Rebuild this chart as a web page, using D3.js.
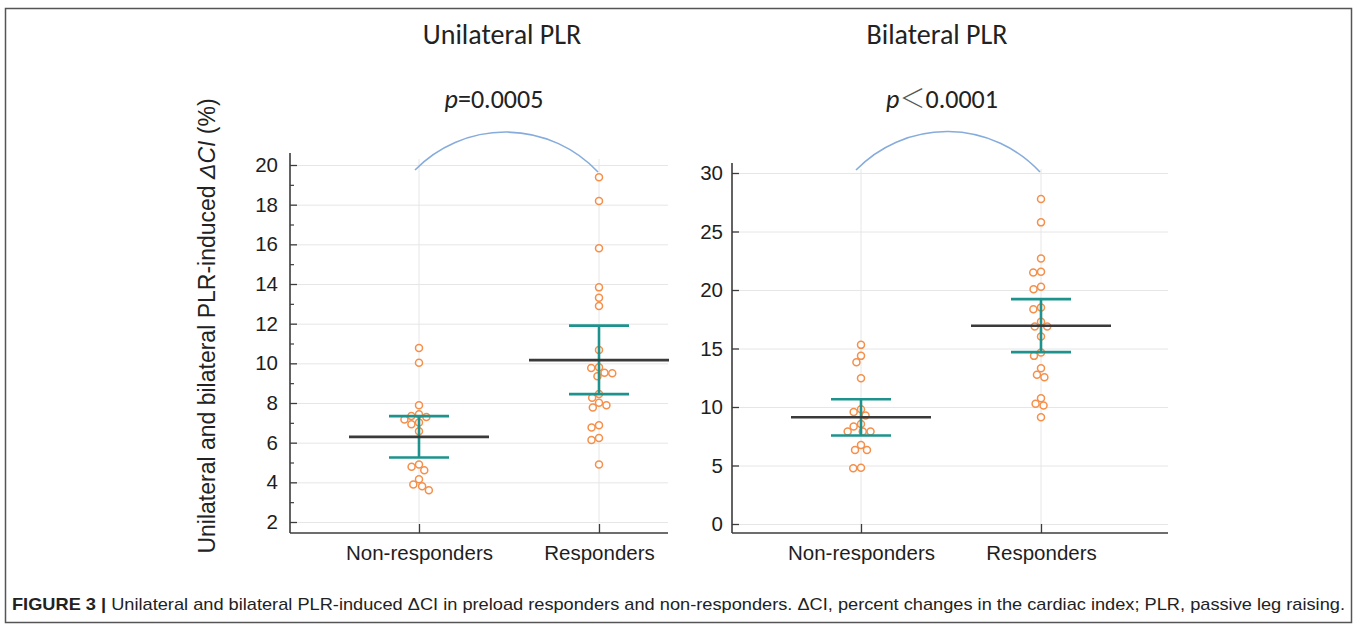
<!DOCTYPE html>
<html>
<head>
<meta charset="utf-8">
<script src="https://cdn.jsdelivr.net/npm/d3@7/dist/d3.min.js"></script>
<style>
  html, body { margin: 0; padding: 0; background: #fff; }
  svg { display: block; }
</style>
</head>
<body>
<svg id="chart" width="1357" height="629"></svg>
<script>
// ---------------- DATA ----------------
const categories = ["Non-responders", "Responders"];
const panelTitles = ["Unilateral PLR", "Bilateral PLR"];
const pRelations = ["=", "\uFF1C"];
const pValues = ["0.0005", "0.0001"];

const uniNonResponders = [10.77, 10.03, 7.89, 7.43, 7.35, 7.30, 7.17, 7.02, 6.93, 6.58, 4.90, 4.78, 4.61, 4.16, 3.89, 3.80, 3.60];
const uniResponders = [19.38, 18.18, 15.80, 13.83, 13.31, 12.89, 10.67, 9.80, 9.77, 9.52, 9.50, 9.35, 8.45, 8.26, 8.01, 7.89, 7.77, 6.88, 6.76, 6.24, 6.13, 4.90];
const biNonResponders = [15.31, 14.37, 13.83, 12.46, 9.81, 9.58, 9.27, 8.55, 8.33, 7.90, 7.90, 7.90, 6.76, 6.33, 6.33, 4.81, 4.76];
const biResponders = [27.77, 25.78, 22.70, 21.56, 21.50, 20.27, 20.07, 18.50, 18.36, 17.28, 16.88, 16.88, 16.02, 14.66, 14.37, 13.32, 12.75, 12.55, 10.75, 10.27, 10.12, 9.12];

const uniMeans = [6.29, 10.16];
const uniCILow = [5.25, 8.45];
const uniCIHigh = [7.34, 11.90];
const biMeans = [9.12, 16.94];
const biCILow = [7.56, 14.69];
const biCIHigh = [10.66, 19.22];

const uniTicks = [2, 4, 6, 8, 10, 12, 14, 16, 18, 20];
const uniMinorTicks = [3, 5, 7, 9, 11, 13, 15, 17, 19];
const biTicks = [0, 5, 10, 15, 20, 25, 30];
const biMinorTicks = [];

const captionBold = "FIGURE 3 |";
const captionText = " Unilateral and bilateral PLR-induced \u0394CI in preload responders and non-responders. \u0394CI, percent changes in the cardiac index; PLR, passive leg raising.";
const yAxisLabel = ["Unilateral and bilateral PLR-induced ", "\u0394CI", " (%)"];

// ---------------- STYLE / LAYOUT ----------------
const svg = d3.select("#chart");
const COL = {
  axis: "#3c3c3c", grid: "#e6e6e6", dot: "#f58f4a", ci: "#1e938e",
  mean: "#3a3a3a", arc: "#86acdc", border: "#555"
};
const NUM_FONT = "'Liberation Sans', Arial, sans-serif";
const TITLE_FONT = "Carlito, Lato, 'Open Sans', sans-serif";

// outer frame
svg.append("rect").attr("x", 5.5).attr("y", 8.5).attr("width", 1346).attr("height", 614)
  .attr("fill", "none").attr("stroke", COL.border).attr("stroke-width", 1.5);

const panels = [
  {
    values: [uniNonResponders, uniResponders], means: uniMeans, lo: uniCILow, hi: uniCIHigh,
    domain: [2, 20], yRange: [522, 165], ticks: uniTicks, minor: uniMinorTicks,
    axisX: 290, axisTop: 153, axisBottom: 533, right: 668, xRange: [419, 599],
    labelPad: 12, title: panelTitles[0], titleX: 502, rel: pRelations[0], pv: pValues[0], pX: 494,
    arc: { dx0: -4, y0: 170, dx1: -1, y1: 172, r: 127 }
  },
  {
    values: [biNonResponders, biResponders], means: biMeans, lo: biCILow, hi: biCIHigh,
    domain: [0, 30], yRange: [524, 173], ticks: biTicks, minor: biMinorTicks,
    axisX: 732, axisTop: 163, axisBottom: 533, right: 1168, xRange: [861, 1041],
    labelPad: 9, title: panelTitles[1], titleX: 937, rel: pRelations[1], pv: pValues[1], pX: 942,
    arc: { dx0: -5, y0: 170, dx1: -1, y1: 172, r: 127 }
  }
];

function swarm(values, y, D) {
  const placed = [];
  const sorted = values.slice().sort((a, b) => b - a);
  sorted.forEach(v => {
    const yy = y(v);
    const forb = [];
    placed.forEach(p => {
      const dy = Math.abs(p.y - yy);
      if (dy < D) {
        const w = Math.sqrt(D * D - dy * dy);
        forb.push([p.o - w, p.o + w]);
      }
    });
    const cands = [0];
    forb.forEach(f => { cands.push(f[0], f[1]); });
    cands.sort((a, b) => Math.abs(a) - Math.abs(b) || a - b);
    let o = 0;
    for (const c of cands) {
      if (forb.every(f => c <= f[0] + 1e-6 || c >= f[1] - 1e-6)) { o = c; break; }
    }
    placed.push({ v, y: yy, o });
  });
  return placed;
}

panels.forEach(P => {
  const g = svg.append("g");
  const y = d3.scaleLinear().domain(P.domain).range(P.yRange);
  const x = d3.scalePoint().domain(categories).range(P.xRange);

  // horizontal grid
  g.append("g").attr("transform", `translate(${P.axisX},0)`)
    .call(d3.axisLeft(y).tickValues(P.ticks).tickSize(-(P.right - P.axisX)).tickFormat(""))
    .call(s => s.select(".domain").remove())
    .call(s => s.selectAll("line").attr("stroke", COL.grid).attr("stroke-width", 1));

  // vertical grid
  g.selectAll(".vgrid").data(categories).join("line")
    .attr("x1", d => x(d)).attr("x2", d => x(d))
    .attr("y1", P.axisTop + 6).attr("y2", P.axisBottom)
    .attr("stroke", COL.grid).attr("stroke-width", 1);

  // y axis (major)
  const ya = g.append("g").attr("transform", `translate(${P.axisX},0)`)
    .call(d3.axisLeft(y).tickValues(P.ticks).tickSize(-7).tickPadding(P.labelPad).tickFormat(d3.format("d")));
  ya.select(".domain").remove();
  ya.selectAll("line").attr("stroke", COL.axis).attr("stroke-width", 1.3);
  ya.selectAll("text").attr("font-family", NUM_FONT).attr("font-size", 20.5).attr("fill", "#1e1e1e");

  // y axis (minor)
  if (P.minor.length) {
    const ym = g.append("g").attr("transform", `translate(${P.axisX},0)`)
      .call(d3.axisLeft(y).tickValues(P.minor).tickSize(-4).tickFormat(""));
    ym.select(".domain").remove();
    ym.selectAll("line").attr("stroke", COL.axis).attr("stroke-width", 1.2);
  }

  // axis lines
  g.append("line").attr("x1", P.axisX).attr("x2", P.axisX)
    .attr("y1", P.axisTop).attr("y2", P.axisBottom)
    .attr("stroke", COL.axis).attr("stroke-width", 1.6);

  const xa = g.append("g").attr("transform", `translate(0,${P.axisBottom})`)
    .call(d3.axisBottom(x).tickSize(-9).tickPadding(12));
  xa.select(".domain").remove();
  xa.selectAll("line").attr("stroke", COL.axis).attr("stroke-width", 1.3);
  xa.selectAll("text").attr("font-family", NUM_FONT).attr("font-size", 20.5).attr("fill", "#1e1e1e");

  g.append("line").attr("x1", P.axisX).attr("x2", P.right)
    .attr("y1", P.axisBottom).attr("y2", P.axisBottom)
    .attr("stroke", COL.axis).attr("stroke-width", 1.6);

  // dots
  categories.forEach((c, i) => {
    const pts = swarm(P.values[i], y, 7.8);
    g.append("g").selectAll("circle").data(pts).join("circle")
      .attr("cx", d => x(c) + d.o).attr("cy", d => d.y).attr("r", 3.5)
      .attr("fill", "#fff").attr("stroke", COL.dot).attr("stroke-width", 1.5);
  });

  // CI bars
  categories.forEach((c, i) => {
    const cx = x(c);
    const cg = g.append("g").attr("stroke", COL.ci).attr("stroke-width", 2.6).attr("fill", "none");
    cg.append("line").attr("x1", cx).attr("x2", cx).attr("y1", y(P.lo[i])).attr("y2", y(P.hi[i]));
    cg.append("line").attr("x1", cx - 30).attr("x2", cx + 30).attr("y1", y(P.lo[i])).attr("y2", y(P.lo[i]));
    cg.append("line").attr("x1", cx - 30).attr("x2", cx + 30).attr("y1", y(P.hi[i])).attr("y2", y(P.hi[i]));
  });

  // mean lines
  categories.forEach((c, i) => {
    const cx = x(c);
    g.append("line").attr("x1", cx - 70).attr("x2", cx + 70)
      .attr("y1", y(P.means[i])).attr("y2", y(P.means[i]))
      .attr("stroke", COL.mean).attr("stroke-width", 2.6);
  });

  // significance arc
  const a = P.arc;
  const x0 = x(categories[0]) + a.dx0, x1 = x(categories[1]) + a.dx1;
  g.append("path")
    .attr("d", `M${x0},${a.y0} A${a.r},${a.r} 0 0 1 ${x1},${a.y1}`)
    .attr("fill", "none").attr("stroke", COL.arc).attr("stroke-width", 1.6);

  // p value
  const pt = g.append("text").attr("x", P.pX).attr("y", 108).attr("text-anchor", "middle")
    .attr("font-family", TITLE_FONT).attr("font-size", 26).attr("fill", "#222");
  pt.append("tspan").attr("font-style", "italic").text("p");
  if (P.rel === "=") {
    pt.append("tspan").text(P.rel);
  } else {
    pt.append("tspan").attr("font-family", "'Noto Sans CJK SC', sans-serif").attr("font-weight", 300)
      .attr("fill", "#555").text(P.rel);
  }
  pt.append("tspan").text(P.pv);

  // title
  g.append("text").attr("x", P.titleX).attr("y", 44).attr("text-anchor", "middle")
    .attr("font-family", TITLE_FONT).attr("font-size", 28).attr("fill", "#222").text(P.title);
});

// y-axis label
const yl = svg.append("text")
  .attr("transform", "translate(215,326) rotate(-90)")
  .attr("text-anchor", "middle").attr("font-family", NUM_FONT).attr("font-size", 23).attr("fill", "#222");
yl.append("tspan").text(yAxisLabel[0]);
yl.append("tspan").attr("font-style", "italic").text(yAxisLabel[1]);
yl.append("tspan").text(yAxisLabel[2]);

// caption
const cap = svg.append("text").attr("x", 12).attr("y", 610)
  .attr("font-family", "'Liberation Sans Narrow', 'Liberation Sans', Arial, sans-serif")
  .attr("font-size", 17).attr("fill", "#222")
  .attr("textLength", 1333).attr("lengthAdjust", "spacingAndGlyphs");
cap.append("tspan").attr("font-weight", "bold").text(captionBold);
cap.append("tspan").text(captionText);
</script>
</body>
</html>
